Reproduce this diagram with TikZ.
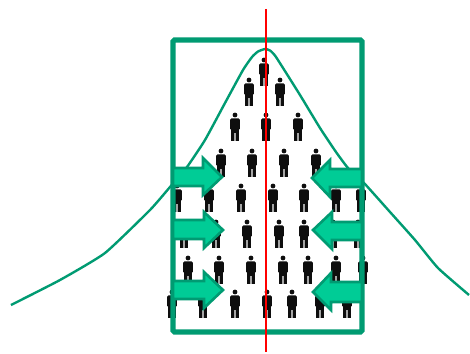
\documentclass[tikz,border=0pt]{standalone}
\definecolor{framegreen}{HTML}{009B72}
\definecolor{arrowfill}{HTML}{00CC96}
\definecolor{figdark}{HTML}{0E0E0E}
\tikzset{
  frameline/.style={draw=framegreen,line width=5.2pt,rounded corners=1.5pt},
  bellcurve/.style={draw=framegreen,line width=2.4pt,line join=round},
  axisline/.style={draw=red,line width=1.7pt},
  blockarrow/.style={draw=framegreen,fill=arrowfill,line width=2.6pt,line join=miter},
  figure/.pic={
    \fill[figdark] (0,0) circle (2.4);
    \fill[figdark,rounded corners=1.2pt] (-4.8,3.4) rectangle (4.8,15);
    \fill[figdark] (-3.8,12) rectangle (3.8,17.5);
    \fill[figdark] (-3.6,16.5) rectangle (-0.9,26);
    \fill[figdark] (0.9,16.5) rectangle (3.6,26);
    \fill[black!35] (-0.9,17.5) rectangle (0.9,26);
  }
}
\begin{document}
\begin{tikzpicture}[x=1pt,y=-1pt]
\useasboundingbox (0,0) rectangle (470,353);
\fill[white] (0,0) rectangle (470,353);
% people
\foreach \row/\hy/\xs in {
  1/60/{264},
  2/80/{249,280},
  3/115/{235,266,298},
  4/151/{221,252,284,316},
  5/186/{177,209,241,273,304,336,361},
  6/222/{184,216,247,279,304,333,358},
  7/258/{188,219,251,283,308,336,363},
  8/292/{172,203,235,267,292,320,347}}{
  \foreach \px in \xs { \pic at (\px,\hy) {figure}; }
}
% bell curve
\draw[bellcurve] plot[smooth,tension=0.3] coordinates {
 (11,305) (60,280) (105,253) (150,210) (170,187) (187,167) (205,140) (225,103) (243,70) (252,57) (258,51.5) (265,49) (270,50.5) (276,57) (300,95) (320,128) (336,152) (348,168) (364,183) (390,212) (415,240) (438,268) (469,295)};
% frame
\draw[frameline] (173,40) rectangle (362,332);
% block arrows
\draw[blockarrow] (173,168) -- (203,168) -- (203,158) -- (222,177) -- (203,195) -- (203,186) -- (173,186) -- cycle;
\draw[blockarrow] (173,220) -- (204,220) -- (204,212) -- (223,230) -- (204,248) -- (204,239) -- (173,239) -- cycle;
\draw[blockarrow] (173,281) -- (204,281) -- (204,272) -- (223,290) -- (204,308) -- (204,299) -- (173,299) -- cycle;
\draw[blockarrow] (362,169) -- (330,169) -- (330,160) -- (312,178) -- (330,197) -- (330,187) -- (362,187) -- cycle;
\draw[blockarrow] (362,222) -- (332,222) -- (332,212) -- (313,230) -- (332,249) -- (332,240) -- (362,240) -- cycle;
\draw[blockarrow] (362,282) -- (331,282) -- (331,273) -- (313,292) -- (331,310) -- (331,302) -- (362,302) -- cycle;
% axis
\draw[axisline] (266,9) -- (266,352);
\end{tikzpicture}
\end{document}
